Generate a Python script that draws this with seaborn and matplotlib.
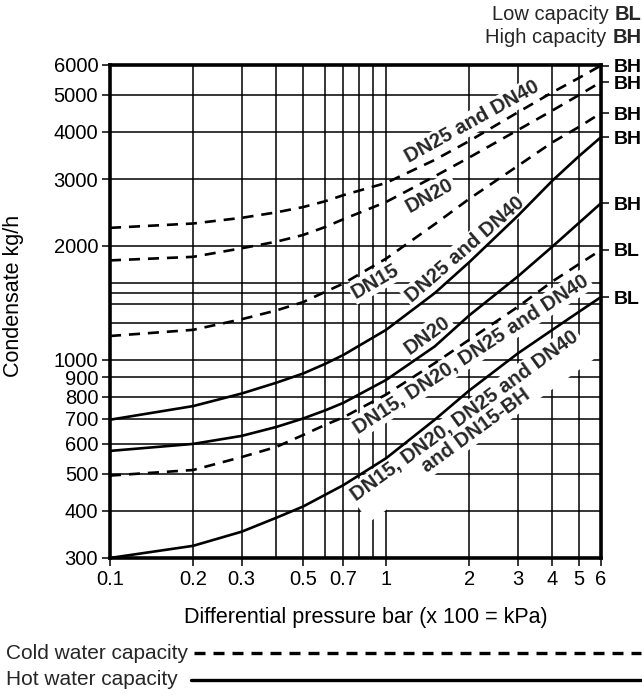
import numpy as np
import pandas as pd
import matplotlib
matplotlib.use("Agg")
import matplotlib.pyplot as plt
import seaborn as sns
from matplotlib.lines import Line2D
from matplotlib.ticker import NullLocator, NullFormatter

# Differential pressure (bar) where the curves were read
pressure = [0.1, 0.2, 0.3, 0.4, 0.5, 0.6, 0.7, 1, 1.5, 2, 3, 4, 5, 6]

# Condensate capacity kg/h
cold_dn25_dn40_bh = [2230, 2290, 2370, 2450, 2530, 2620, 2720, 2930, 3370, 3780, 4500, 5080, 5550, 5980]
cold_dn20_bh = [1830, 1870, 1970, 2050, 2135, 2240, 2350, 2610, 3050, 3420, 4040, 4550, 5000, 5410]
cold_dn15_bh = [1156, 1200, 1280, 1350, 1420, 1510, 1590, 1850, 2280, 2660, 3250, 3750, 4120, 4480]
cold_all_bl = [495, 512, 554, 589, 633, 673, 705, 810, 980, 1130, 1380, 1610, 1790, 1950]
hot_dn25_dn40_bh = [695, 755, 815, 870, 920, 975, 1030, 1200, 1500, 1810, 2400, 2970, 3450, 3870]
hot_dn20_bh = [575, 600, 630, 665, 700, 735, 770, 885, 1085, 1310, 1660, 1990, 2300, 2590]
hot_all_bl = [300, 323, 352, 383, 410, 440, 467, 550, 695, 830, 1040, 1200, 1340, 1465]

curve_names = ["cold_dn25_dn40_bh", "cold_dn20_bh", "cold_dn15_bh", "cold_all_bl",
               "hot_dn25_dn40_bh", "hot_dn20_bh", "hot_all_bl"]
curve_values = [cold_dn25_dn40_bh, cold_dn20_bh, cold_dn15_bh, cold_all_bl,
                hot_dn25_dn40_bh, hot_dn20_bh, hot_all_bl]
curve_water = ["cold", "cold", "cold", "cold", "hot", "hot", "hot"]
curve_capacity = ["BH", "BH", "BH", "BL", "BH", "BH", "BL"]

x_ticks = [0.1, 0.2, 0.3, 0.5, 0.7, 1, 2, 3, 4, 5, 6]
x_tick_labels = ["0.1", "0.2", "0.3", "0.5", "0.7", "1", "2", "3", "4", "5", "6"]
x_minor = [0.4, 0.6, 0.8, 0.9]
y_ticks = [300, 400, 500, 600, 700, 800, 900, 1000, 2000, 3000, 4000, 5000, 6000]
y_minor = [1250, 1400, 1500, 1600]

# curve labels: text, pressure, capacity, rotation
curve_labels = [
    ("DN25 and DN40", 2.05, 4240, 29),
    ("DN20", 1.44, 2720, 29),
    ("DN15", 0.915, 1615, 30),
    ("DN25 and DN40", 1.93, 1950, 41),
    ("DN20", 1.41, 1163, 36),
    ("DN15, DN20, DN25 and DN40", 2.03, 1035, 33),
    ("DN15, DN20, DN25 and DN40\nand DN15-BH", 2.02, 680, 36),
]

df = pd.concat([
    pd.DataFrame({"pressure": pressure, "flow": vals, "curve": name, "water": w})
    for name, vals, w in zip(curve_names, curve_values, curve_water)
], ignore_index=True)

sns.set_theme(style="white")
plt.rcParams["font.family"] = ["Liberation Sans", "DejaVu Sans"]

fig = plt.figure(figsize=(6.42, 6.98), dpi=100)
ax = fig.add_axes([0.1713, 0.2006, 0.7648, 0.7063])

sns.lineplot(data=df, x="pressure", y="flow", units="curve", estimator=None,
             style="water", dashes={"cold": (4.2, 3.0), "hot": ""},
             color="black", linewidth=1.9, legend=False, ax=ax, zorder=3)

ax.set_xscale("log")
ax.set_yscale("log")
ax.set_xlim(0.1, 6)
ax.set_ylim(300, 6000)
ax.set_xticks(x_ticks, x_tick_labels)
ax.set_xticks(x_minor, minor=True)
ax.set_yticks(y_ticks, [str(v) for v in y_ticks])
ax.set_yticks(y_minor, minor=True)
ax.xaxis.set_minor_formatter(NullFormatter())
ax.yaxis.set_minor_formatter(NullFormatter())
ax.tick_params(which="major", direction="out", length=5.5, width=1.1,
               labelsize=14.5, pad=3, color="black", labelcolor="black",
               bottom=True, left=True)
ax.tick_params(which="minor", length=0)
ax.set_axisbelow(True)
ax.grid(True, which="both", color="black", linewidth=1.1)
for s in ax.spines.values():
    s.set_linewidth(2.6)
    s.set_color("black")

ax.set_xlabel("Differential pressure bar (x 100 = kPa)", fontsize=15.5, color="black")
ax.xaxis.set_label_coords(0.522, -0.099)
ax.set_ylabel("Condensate kg/h", fontsize=15.5, color="black")
ax.yaxis.set_label_coords(-0.175, 0.531)

for text, px, fy, rot in curve_labels:
    ax.text(px, fy, text, rotation=rot, rotation_mode="anchor", ha="center", va="center",
            fontsize=14.5, fontweight="bold", linespacing=0.95, zorder=2,
            bbox=dict(facecolor="white", edgecolor="none", pad=1.5))

# right side BH / BL marks at the curve ends
ax2 = ax.twinx()
ax2.set_yscale("log")
ax2.set_ylim(ax.get_ylim())
ends = [vals[-1] for vals in curve_values]
ax2.set_yticks(ends, curve_capacity)
ax2.yaxis.set_minor_locator(NullLocator())
ax2.tick_params(axis="y", direction="out", length=5.5, width=1.1, pad=3.5,
                labelsize=14, color="black", labelcolor="black")
for lab in ax2.get_yticklabels():
    lab.set_fontweight("bold")
for name, s in ax2.spines.items():
    s.set_visible(False)

# top-right capacity key
for label, code, fy in [("Low capacity", "BL", 0.966), ("High capacity", "BH", 0.933)]:
    t = fig.text(0.999, fy, code, ha="right", va="bottom", fontsize=14.5, fontweight="bold")
    ax.annotate(label, xy=(0, 0), xycoords=t, xytext=(-4, 0), textcoords="offset points",
                ha="right", va="bottom", fontsize=14.5, annotation_clip=False)

# bottom line-style key
fig.text(0.009, 0.064, "Cold water capacity", ha="left", va="center", fontsize=15)
fig.text(0.009, 0.026, "Hot water capacity", ha="left", va="center", fontsize=15)
fig.add_artist(Line2D([0.302, 0.999], [0.064, 0.064], transform=fig.transFigure,
                      color="black", linewidth=2.4, dashes=(3.3, 2.4)))
fig.add_artist(Line2D([0.297, 0.999], [0.026, 0.026], transform=fig.transFigure,
                      color="black", linewidth=2.4))

fig.savefig("out.png", dpi=100)
